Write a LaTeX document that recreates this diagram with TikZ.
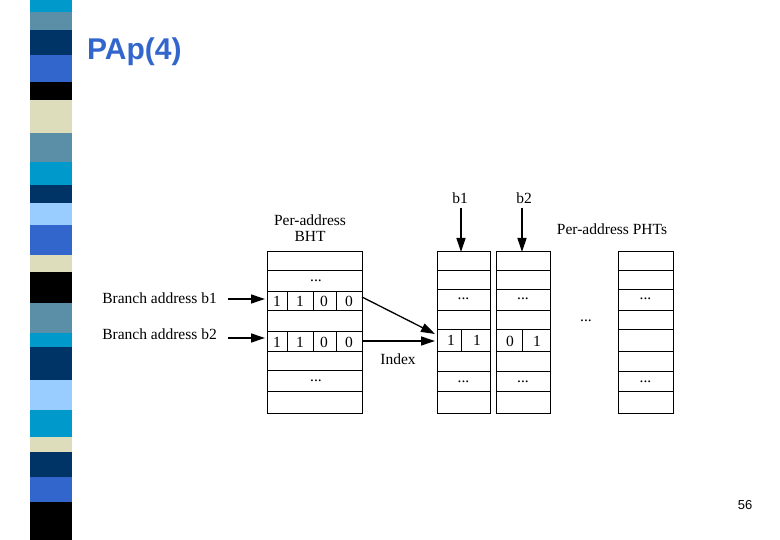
\documentclass[tikz,border=0pt]{standalone}
\usepackage{fontspec}
\setmainfont{Liberation Serif}
\newfontfamily\hel{Liberation Sans}
\usetikzlibrary{arrows.meta}
\definecolor{cCy}{HTML}{0099CC}
\definecolor{cSt}{HTML}{5B8FA8}
\definecolor{cNv}{HTML}{003366}
\definecolor{cRy}{HTML}{3366CC}
\definecolor{cBe}{HTML}{DDDDBB}
\definecolor{cLb}{HTML}{99CCFF}
\begin{document}
\begin{tikzpicture}[x=1pt,y=-1pt,
  lbl/.style={font=\fontsize{15.5}{17}\selectfont,inner sep=0pt,align=center},
  arr/.style={line width=1.3pt,-{Triangle[length=14pt,width=9pt]}},
  cell/.style={line width=1pt}]
\useasboundingbox (0,0) rectangle (780,540);
\fill[white] (0,0) rectangle (780,540);
% stripe
\foreach \a/\b/\c in {0/12/cCy,12/30/cSt,30/55/cNv,55/82/cRy,82/100/black,100/133/cBe,133/162/cSt,162/185/cCy,185/203/cNv,203/225/cLb,225/255/cRy,255/272/cBe,272/303/black,303/333/cSt,333/347/cCy,347/380/cNv,380/410/cLb,410/437/cCy,437/452/cBe,452/477/cNv,477/502/cRy,502/540/black}
  \fill[\c] (30,\a) rectangle (72,\b);
% title
\node[text=cRy,font=\hel\bfseries\fontsize{30}{32}\selectfont,anchor=west,inner sep=0pt] (title) at (87,52) {PAp(4)};
% BHT
\draw[cell] (267,252) rectangle (362,413);
\foreach \y in {271,292,311,332,352,371,392} \draw[cell] (267,\y) -- (362,\y);
\foreach \x in {287,313,336} {\draw[cell] (\x,292) -- (\x,311); \draw[cell] (\x,332) -- (\x,352);}
\node[lbl] (bd1) at (316,281) {...};
\node[lbl] (bd2) at (316,381) {...};
\foreach \y in {301,342} {
  \node[lbl] at (277,\y) {1}; \node[lbl] at (300,\y) {1};
  \node[lbl] at (324,\y) {0}; \node[lbl] at (349,\y) {0};}
\coordinate (bht1) at (265,299);
\coordinate (bht2) at (265,338);
\coordinate (bo1) at (362,297);
\coordinate (bo2) at (362,341);
% PHTs
\foreach \l/\r in {437/490,496/550,618/673} {
  \draw[cell] (\l,252) rectangle (\r,413);
  \foreach \y in {271,290,311,330,352,372,392} \draw[cell] (\l,\y) -- (\r,\y);
  \node[lbl] at ({(\l+\r)/2},299) {...};
  \node[lbl] at ({(\l+\r)/2},382) {...};}
\draw[cell] (461,330) -- (461,352);
\draw[cell] (522,330) -- (522,352);
\node[lbl] at (451,340) {1}; \node[lbl] at (477,340) {1};
\node[lbl] at (510,341) {0}; \node[lbl] at (537,341) {1};
\node[lbl] at (586,321) {...};
\coordinate (p1) at (435,334);
\coordinate (p2) at (435,341);
\coordinate (t1) at (461,252);
\coordinate (t2) at (522,252);
% labels
\node[lbl] (b1) at (460,198) {b1};
\node[lbl] (b2) at (524,198) {b2};
\node[lbl,font=\fontsize{15.5}{16}\selectfont] (pb) at (310,228) {Per-address\\BHT};
\node[lbl] (pp) at (612,229) {Per-address PHTs};
\node[lbl,anchor=east] (ba1) at (217,298) {Branch address b1};
\node[lbl,anchor=east] (ba2) at (217,334) {Branch address b2};
\node[lbl] (idx) at (398,359) {Index};
\node[font=\hel\fontsize{13}{15}\selectfont] (pg) at (745,505) {56};
% arrows
\draw[arr] (228,299) -- (bht1);
\draw[arr] (228,338) -- (bht2);
\draw[arr] (bo1) -- (p1);
\draw[arr] (bo2) -- (p2);
\draw[arr] (461,208) -- (t1);
\draw[arr] (522,208) -- (t2);
\end{tikzpicture}
\end{document}
